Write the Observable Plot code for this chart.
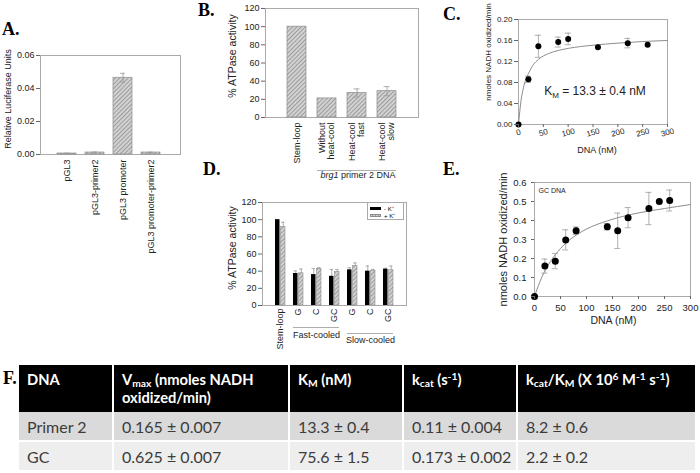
<!DOCTYPE html>
<html><head><meta charset="utf-8">
<script src="https://cdn.jsdelivr.net/npm/d3@7"></script>
<script src="https://cdn.jsdelivr.net/npm/@observablehq/plot@0.6"></script>
<style>
body{margin:0;background:#fff;}
#root{position:relative;width:700px;height:473px;overflow:hidden;font-family:"Liberation Sans",Arial,sans-serif;background:#fff;}
#tbl{position:absolute;left:19px;top:365px;width:676px;border-collapse:collapse;table-layout:fixed;font-family:Lato,"Open Sans",sans-serif;}
#tbl th{background:#000;color:#fff;font-weight:bold;font-size:14.7px;text-align:left;vertical-align:top;height:47px;padding:5px 0 0 8px;line-height:18px;border-left:2px solid #fff;box-sizing:border-box;white-space:nowrap;}
#tbl th:first-child,#tbl td:first-child{border-left:none;}
#tbl td{font-size:16px;color:#3c3c3c;height:29px;padding:0 0 0 8px;border-left:2px solid #fff;box-sizing:border-box;white-space:nowrap;}
#tbl tr.r1 td{background:#dadada;}
#tbl tr.r2 td{background:#eeeeee;border-top:2px solid #fff;}
#tbl sub{font-size:0.7em;vertical-align:baseline;position:relative;top:0.15em;line-height:0;}
#tbl sup{font-size:0.7em;vertical-align:baseline;position:relative;top:-0.45em;line-height:0;}
#legendD{position:absolute;left:367px;top:202px;width:37px;height:18px;border:1px solid #aaa;background:#fff;box-sizing:border-box;font-size:6px;}
#legendD .it{position:absolute;left:2px;height:7px;display:flex;align-items:center;}
#legendD .sw{width:11px;height:3px;margin-right:3px;}
</style></head>
<body>
<svg width="0" height="0" style="position:absolute">
  <defs>
    <pattern id="hatch" patternUnits="userSpaceOnUse" width="3" height="3" patternTransform="rotate(45)">
      <rect width="3" height="3" fill="#d2d2d2"/>
      <line x1="0.5" y1="0" x2="0.5" y2="3" stroke="#9c9c9c" stroke-width="1"/>
    </pattern>
  </defs>
</svg>
<div id="root"></div>
<script>
// ---------------- DATA ----------------
// Panel A
const aCategories = ["pGL3", "pGL3-primer2", "pGL3 promoter", "pGL3 promoter-primer2"];
const aValues = [0.0006, 0.0012, 0.0465, 0.0012];
const aErrors = [0.0002, 0.0003, 0.0027, 0.0002];
const aTicks = [0, 0.02, 0.04, 0.06];
const aYLabel = "Relative Luciferase Units";

// Panel B
const bCategories = ["Stem-loop", "Without\nheat-cool", "Heat-cool\nfast", "Heat-cool\nslow"];
const bValues = [100, 21, 27, 29];
const bErrors = [0, 0, 4.5, 5];
const bTicks = [0, 20, 40, 60, 80, 100, 120];
const bYLabel = "% ATPase activity";
const bGroupLabel = "brg1 primer 2 DNA";

// Panel C
const cDNA = [0, 20, 40, 80, 100, 160, 220, 260];
const cRate = [0, 0.086, 0.149, 0.157, 0.163, 0.147, 0.155, 0.152];
const cErr = [0, 0.006, 0.021, 0.0095, 0.011, 0, 0.009, 0];
const cFitDNA = [0, 5, 10, 15, 20, 30, 40, 60, 80, 100, 150, 200, 250, 300];
const cFitRate = [0, 0.045, 0.07, 0.087, 0.097, 0.114, 0.124, 0.135, 0.141, 0.145, 0.151, 0.155, 0.158, 0.160];
const cTicksX = [0, 50, 100, 150, 200, 250, 300];
const cTicksY = [0, 0.04, 0.08, 0.12, 0.16, 0.20];
const cKm = ["K", "M", " = 13.3 ± 0.4 nM"];
const cKmAt = {dna: 154, rate: 0.064};
const nadhLabel = "nmoles NADH oxidized/min";
const dnaLabel = "DNA (nM)";

// Panel D
const dGroups = ["stem", "fG", "fC", "fGC", "sG", "sC", "sGC"];
const dLabels = ["Stem-loop", "G", "C", "GC", "G", "C", "GC"];
const dSeries = ["- K⁺", "+ K⁺"];
const dMinusK = [100, 37.3, 36, 34, 41.5, 40, 42.3];
const dMinusKErr = [0, 3, 7, 8, 2.5, 6, 1.2];
const dPlusK = [91.5, 37.5, 42.5, 39, 46, 40, 41];
const dPlusKErr = [5.5, 5, 1.5, 3, 3.5, 2, 5];
const dTicks = [0, 20, 40, 60, 80, 100, 120];
const dSubgroups = [
  {label: "Fast-cooled", from: "fG", mid: "fC", to: "fGC"},
  {label: "Slow-cooled", from: "sG", mid: "sC", to: "sGC"}
];

// Panel E
const eDNA = [0, 20, 40, 60, 80, 140, 160, 180, 220, 240, 260];
const eRate = [0, 0.16, 0.186, 0.298, 0.346, 0.367, 0.346, 0.415, 0.463, 0.5, 0.505];
const eErr = [0, 0.037, 0.04, 0.053, 0.02, 0.017, 0.093, 0.053, 0.085, 0, 0.055];
const eFitDNA = [0, 10, 20, 40, 60, 80, 100, 140, 200, 250, 300];
const eFitRate = [0, 0.075, 0.135, 0.22, 0.28, 0.323, 0.355, 0.398, 0.44, 0.463, 0.484];
const eTicksX = [0, 50, 100, 150, 200, 250, 300];
const eTicksY = [0, 0.1, 0.2, 0.3, 0.4, 0.5, 0.6];
const eNote = "GC DNA";

// Panel F (table)
const fHeaders = ["DNA", "V<sub>max</sub> (nmoles NADH<br>oxidized/min)", "K<sub>M</sub> (nM)", "k<sub>cat</sub> (s<sup>-1</sup>)", "k<sub>cat</sub>/K<sub>M</sub> (X 10<sup>6</sup> M<sup>-1</sup> s<sup>-1</sup>)"];
const fDNA = ["Primer 2", "GC"];
const fVmax = ["0.165 ± 0.007", "0.625 ± 0.007"];
const fKm = ["13.3 ± 0.4", "75.6 ± 1.5"];
const fKcat = ["0.11 ± 0.004", "0.173 ± 0.002"];
const fRatio = ["8.2 ± 0.6", "2.2 ± 0.2"];

const panelLetters = ["A.", "B.", "C.", "D.", "E.", "F."];

// ---------------- RENDER ----------------
const root = document.getElementById("root");
const FONT = '"Liberation Sans", Arial, Helvetica, sans-serif';
const HATCH = "url(#hatch)";
const ERR = "#9a9a9a";
function add(node, left, top) {
  node.style.position = "absolute";
  node.style.left = left + "px";
  node.style.top = top + "px";
  root.appendChild(node);
  return node;
}
const st = (size) => ({fontFamily: FONT, fontSize: size + "px", background: "transparent", overflow: "visible", color: "#222"});
const yTitle = (label, dx, dy, size) => Plot.text([label], {text: d => d, frameAnchor: "left", textAnchor: "middle", lineAnchor: "middle", rotate: -90, dx, dy, fontSize: size});

// Panel A
const aData = aCategories.map((c, i) => ({c, v: aValues[i], e: aErrors[i]}));
add(Plot.plot({
  width: 200, height: 220, marginTop: 15, marginRight: 20, marginBottom: 106, marginLeft: 40,
  style: st(9),
  x: {domain: aCategories, padding: 0.32, insetLeft: 8.5, insetRight: 10.5, label: null},
  y: {domain: [0, 0.06], label: null},
  marks: [
    Plot.frame({stroke: "#aaa"}),
    Plot.barY(aData, {x: "c", y: "v", fill: HATCH, stroke: "#8c8c8c", strokeWidth: 0.7}),
    Plot.ruleX(aData, {x: "c", y1: d => d.v - d.e, y2: d => d.v + d.e, stroke: ERR, strokeWidth: 0.8}),
    Plot.tickY(aData, {x: "c", y: d => d.v + d.e, stroke: ERR, inset: 7, strokeWidth: 0.8}),
    Plot.tickY(aData, {x: "c", y: d => d.v - d.e, stroke: ERR, inset: 7, strokeWidth: 0.8}),
    Plot.axisY({ticks: aTicks, tickFormat: ".2f", tickSize: 4, tickPadding: 2, label: null, fontSize: 9, stroke: "#666"}),
    Plot.axisX({tickRotate: -90, tickSize: 0, tickPadding: 5, label: null, fontSize: 9}),
    yTitle(aYLabel, -32, -6, 9)
  ]
}), 0, 40);

// Panel B
const bData = bCategories.map((c, i) => ({c, v: bValues[i], e: bErrors[i]}));
const bErr = bData.filter(d => d.e > 0);
const chartB = add(Plot.plot({
  width: 225, height: 190, marginTop: 8, marginRight: 7, marginBottom: 73, marginLeft: 65,
  style: st(9),
  x: {domain: bCategories, padding: 0.37, insetLeft: 10.3, insetRight: 10.2, label: null},
  y: {domain: [0, 120], label: null},
  marks: [
    Plot.frame({stroke: "#aaa"}),
    Plot.barY(bData, {x: "c", y: "v", fill: HATCH, stroke: "#8c8c8c", strokeWidth: 0.7}),
    Plot.ruleX(bErr, {x: "c", y1: d => d.v - d.e, y2: d => d.v + d.e, stroke: ERR, strokeWidth: 0.8}),
    Plot.tickY(bErr, {x: "c", y: d => d.v + d.e, stroke: ERR, inset: 6.5, strokeWidth: 0.8}),
    Plot.tickY(bErr, {x: "c", y: d => d.v - d.e, stroke: ERR, inset: 6.5, strokeWidth: 0.8}),
    Plot.axisY({ticks: bTicks, tickSize: 4, tickPadding: 2, label: null, fontSize: 9, stroke: "#666"}),
    Plot.axisX({tickRotate: -90, tickSize: 0, tickPadding: 5, label: null, fontSize: 9}),
    yTitle(bYLabel, -33, -7, 10.5),
    Plot.ruleY([0], {x1: () => bCategories[1], x2: () => bCategories[3], dy: 53, stroke: "#999", strokeWidth: 0.8}),
    Plot.text([bGroupLabel], {text: d => d, x: () => bCategories[2], frameAnchor: "bottom", dy: 60, dx: 1, fontSize: 9})
  ]
}), 200, 0);
d3.select(chartB).selectAll("text").filter(function () { return this.textContent === bGroupLabel; }).each(function () {
  const t = d3.select(this);
  const [first, ...rest] = bGroupLabel.split(" ");
  t.text(null);
  t.append("tspan").attr("font-style", "italic").text(first);
  t.append("tspan").text(" " + rest.join(" "));
});

// Panel C
const cData = cDNA.map((x, i) => ({x, y: cRate[i], e: cErr[i]}));
const cErrData = cData.filter(d => d.e > 0);
const cFit = cFitDNA.map((x, i) => ({x, y: cFitRate[i]}));
const chartC = add(Plot.plot({
  width: 260, height: 170, marginTop: 19, marginRight: 33, marginBottom: 46, marginLeft: 78,
  style: st(8),
  x: {domain: [0, 300], label: null},
  y: {domain: [0, 0.2], label: null},
  marks: [
    Plot.frame({stroke: "#aaa"}),
    Plot.line(cFit, {x: "x", y: "y", stroke: "#8c8c8c", strokeWidth: 1, curve: "monotone-x"}),
    Plot.ruleX(cErrData, {x: "x", y1: d => d.y - d.e, y2: d => d.y + d.e, stroke: ERR, strokeWidth: 0.8}),
    Plot.ruleY(cErrData, {y: d => d.y + d.e, x1: "x", x2: "x", insetLeft: -3, insetRight: -3, stroke: ERR, strokeWidth: 0.8}),
    Plot.ruleY(cErrData, {y: d => d.y - d.e, x1: "x", x2: "x", insetLeft: -3, insetRight: -3, stroke: ERR, strokeWidth: 0.8}),
    Plot.dot(cData, {x: "x", y: "y", r: 3, fill: "#000"}),
    Plot.axisY({ticks: cTicksY, tickFormat: ".2f", tickSize: 4, tickPadding: 2, label: null, fontSize: 8, stroke: "#666"}),
    Plot.axisX({ticks: cTicksX, tickRotate: -15, textAnchor: "middle", tickSize: 3, tickPadding: 5, label: null, fontSize: 8, stroke: "#666"}),
    yTitle(nadhLabel, -30, -20, 8),
    Plot.text([dnaLabel], {text: d => d, frameAnchor: "bottom", dx: 4, dy: 28, fontSize: 9}),
    Plot.text([cKm.join("")], {text: d => d, x: () => cKmAt.dna, y: () => cKmAt.rate, fontSize: 12})
  ]
}), 440, 0);
d3.select(chartC).selectAll("text").filter(function () { return this.textContent === cKm.join(""); }).each(function () {
  const t = d3.select(this);
  t.text(null);
  t.append("tspan").text(cKm[0]);
  t.append("tspan").attr("font-size", "8px").attr("dy", "3").text(cKm[1]);
  t.append("tspan").attr("dy", "-3").text(cKm[2]);
});

// Panel D
const dMinus = dGroups.map((g, i) => ({g, v: dMinusK[i], e: dMinusKErr[i]}));
const dPlus = dGroups.map((g, i) => ({g, v: dPlusK[i], e: dPlusKErr[i]}));
const dMinusErr = dMinus.filter(d => d.e > 0);
const dPlusErr = dPlus.filter(d => d.e > 0);
const dMarks = [
  Plot.frame({stroke: "#aaa"}),
  Plot.ruleX(dMinusErr, {x: "g", y1: d => d.v - d.e, y2: d => d.v + d.e, dx: -2.75, stroke: ERR, strokeWidth: 0.8}),
  Plot.tickY(dMinusErr, {x: "g", y: d => d.v + d.e, insetLeft: 0.5, insetRight: 6, stroke: ERR, strokeWidth: 0.8}),
  Plot.ruleX(dPlusErr, {x: "g", y1: d => d.v - d.e, y2: d => d.v + d.e, dx: 2.75, stroke: ERR, strokeWidth: 0.8}),
  Plot.tickY(dPlusErr, {x: "g", y: d => d.v + d.e, insetLeft: 6, insetRight: 0.5, stroke: ERR, strokeWidth: 0.8}),
  Plot.barY(dMinus, {x: "g", y: "v", fill: "#000", insetRight: 5.5}),
  Plot.barY(dPlus, {x: "g", y: "v", fill: HATCH, stroke: "#8c8c8c", strokeWidth: 0.6, insetLeft: 5.5}),
  Plot.axisY({ticks: dTicks, tickSize: 4, tickPadding: 2, label: null, fontSize: 9, stroke: "#666"}),
  Plot.axisX({tickRotate: -90, tickSize: 0, tickPadding: 3, label: null, fontSize: 9, tickFormat: g => dLabels[dGroups.indexOf(g)]}),
  yTitle(bYLabel, -30, -6, 10.5)
];
dSubgroups.forEach((s, k) => {
  dMarks.push(Plot.ruleY([0], {x1: () => s.from, x2: () => s.to, dy: 22 + 6 * k, stroke: "#999", strokeWidth: 0.8}));
  dMarks.push(Plot.text([s.label], {text: d => d, x: () => s.mid, frameAnchor: "bottom", dy: 32 + 5 * k, fontSize: 9}));
});
add(Plot.plot({
  width: 215, height: 160, marginTop: 7, marginRight: 9, marginBottom: 50, marginLeft: 62,
  style: st(9),
  x: {domain: dGroups, padding: 0.44, insetLeft: 5, insetRight: 5, label: null},
  y: {domain: [0, 120], label: null},
  marks: dMarks
}), 200, 195);

// Legend D
const leg = document.createElement("div");
leg.id = "legendD";
dSeries.forEach((s, i) => {
  const it = document.createElement("div");
  it.className = "it";
  it.style.top = (2 + i * 7) + "px";
  const sw = document.createElement("div");
  sw.className = "sw";
  if (i === 0) sw.style.background = "#000";
  else { sw.style.background = "repeating-linear-gradient(135deg,#d2d2d2 0 1px,#9c9c9c 1px 2px)"; sw.style.border = "0.5px solid #8c8c8c"; sw.style.boxSizing = "border-box"; }
  it.appendChild(sw);
  const tx = document.createElement("span");
  tx.textContent = s;
  it.appendChild(tx);
  leg.appendChild(it);
});
root.appendChild(leg);

// Panel E
const eData = eDNA.map((x, i) => ({x, y: eRate[i], e: eErr[i]}));
const eErrData = eData.filter(d => d.e > 0);
const eFit = eFitDNA.map((x, i) => ({x, y: eFitRate[i]}));
add(Plot.plot({
  width: 260, height: 175, marginTop: 17, marginRight: 10, marginBottom: 44, marginLeft: 94,
  style: st(9.5),
  x: {domain: [0, 300], label: null},
  y: {domain: [0, 0.6], label: null},
  marks: [
    Plot.frame({stroke: "#aaa"}),
    Plot.line(eFit, {x: "x", y: "y", stroke: "#8c8c8c", strokeWidth: 1, curve: "monotone-x"}),
    Plot.ruleX(eErrData, {x: "x", y1: d => d.y - d.e, y2: d => d.y + d.e, stroke: ERR, strokeWidth: 0.8}),
    Plot.ruleY(eErrData, {y: d => d.y + d.e, x1: "x", x2: "x", insetLeft: -3, insetRight: -3, stroke: ERR, strokeWidth: 0.8}),
    Plot.ruleY(eErrData, {y: d => d.y - d.e, x1: "x", x2: "x", insetLeft: -3, insetRight: -3, stroke: ERR, strokeWidth: 0.8}),
    Plot.dot(eData, {x: "x", y: "y", r: 3.5, fill: "#000"}),
    Plot.axisY({ticks: eTicksY, tickFormat: ".1f", tickSize: 3, tickPadding: 5, label: null, fontSize: 9.5, stroke: "#666"}),
    Plot.axisX({ticks: eTicksX, tickSize: 3, tickPadding: 5, label: null, fontSize: 9.5, stroke: "#666"}),
    yTitle(nadhLabel, -31, 0, 11),
    Plot.text([dnaLabel], {text: d => d, frameAnchor: "bottom", dx: 1, dy: 27, fontSize: 10.5}),
    Plot.text([eNote], {text: d => d, frameAnchor: "top-left", textAnchor: "start", dx: 4, dy: 6, fontSize: 7})
  ]
}), 440, 165);

// Panel F table
const tbl = d3.select(root).append("table").attr("id", "tbl");
const cg = tbl.append("colgroup");
[94, 176, 114, 114, 178].forEach(w => cg.append("col").style("width", w + "px"));
tbl.append("tr").selectAll("th").data(fHeaders).join("th").html(d => d);
fDNA.forEach((dna, i) => {
  tbl.append("tr").attr("class", "r" + (i + 1)).selectAll("td")
    .data([dna, fVmax[i], fKm[i], fKcat[i], fRatio[i]]).join("td").text(d => d);
});

// Panel letters
const letterPos = [[2, 35], [198, 16], [443, 20], [203, 175], [443, 175], [3, 384]];
const ov = d3.select(root).append("svg").attr("width", 700).attr("height", 473)
  .style("position", "absolute").style("left", "0px").style("top", "0px").style("pointer-events", "none");
ov.selectAll("text").data(panelLetters).join("text")
  .attr("x", (d, i) => letterPos[i][0]).attr("y", (d, i) => letterPos[i][1])
  .attr("font-family", '"Liberation Serif","Times New Roman",serif').attr("font-weight", "bold").attr("font-size", 18)
  .text(d => d);
</script>
</body></html>
